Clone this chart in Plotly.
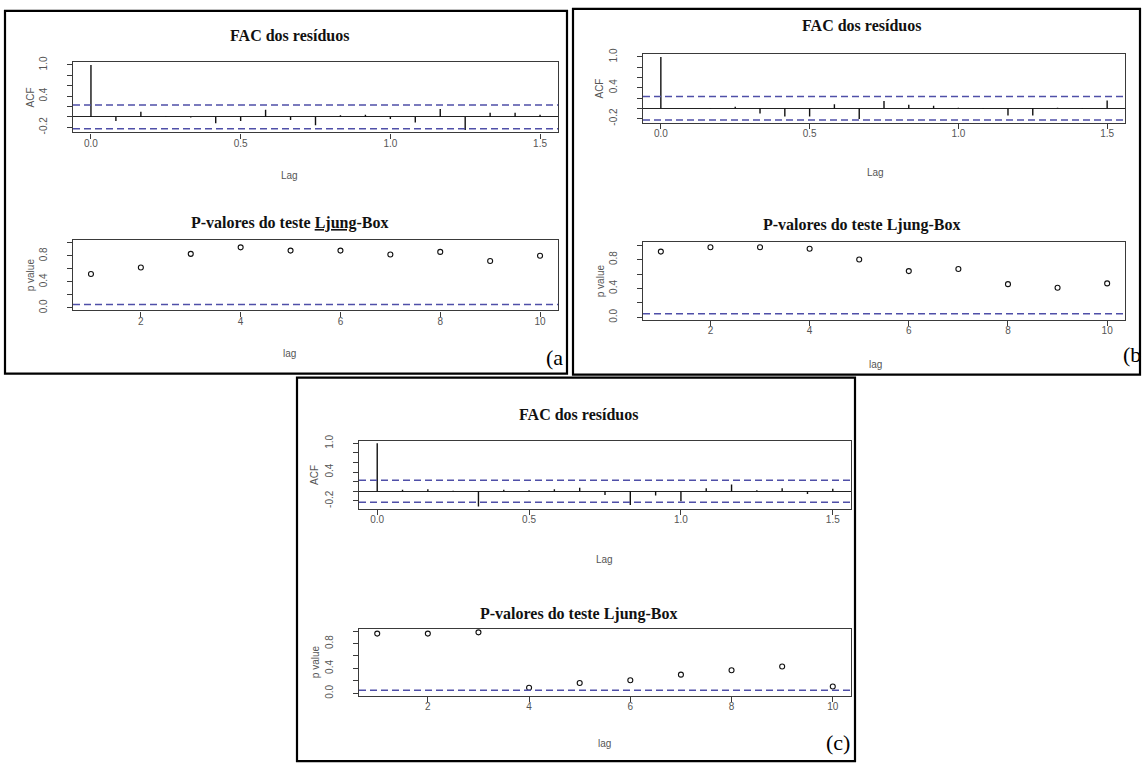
import plotly.graph_objects as go

W, H = 1143, 767

# ---------------- data ----------------
acf_lags = [0.0, 0.0833, 0.1667, 0.25, 0.3333, 0.4167, 0.5, 0.5833, 0.6667, 0.75,
            0.8333, 0.9167, 1.0, 1.0833, 1.1667, 1.25, 1.3333, 1.4167, 1.5]
acf_a = [1.0, -0.08, 0.10, 0.01, -0.01, -0.12, -0.08, 0.14, -0.06, -0.16,
         0.03, 0.04, -0.04, -0.11, 0.15, -0.25, 0.08, 0.08, 0.04]
acf_b = [1.0, 0.0, -0.01, 0.03, -0.10, -0.16, -0.16, 0.08, -0.21, 0.14,
         0.07, 0.05, 0.01, -0.01, -0.14, -0.14, 0.01, -0.01, 0.15]
acf_c = [1.0, 0.03, 0.04, 0.01, -0.32, 0.03, 0.02, 0.04, 0.07, -0.08,
         -0.29, -0.09, -0.21, 0.06, 0.14, 0.02, 0.06, -0.06, 0.05]
conf_limits = [0.23, 0.23, 0.23]

lb_lags = [1, 2, 3, 4, 5, 6, 7, 8, 9, 10]
pval_a = [0.52, 0.62, 0.83, 0.93, 0.88, 0.88, 0.82, 0.86, 0.72, 0.80]
pval_b = [0.91, 0.97, 0.97, 0.95, 0.80, 0.64, 0.67, 0.46, 0.41, 0.47]
pval_c = [0.96, 0.96, 0.98, 0.09, 0.165, 0.21, 0.30, 0.37, 0.43, 0.11]
pval_ref = 0.05

acf_tickvals = [-0.2, 0.0, 0.2, 0.4, 0.6, 0.8, 1.0]
acf_ticktext = ["-0.2", "", "", "0.4", "", "", "1.0"]
acf_xticks = [0.0, 0.5, 1.0, 1.5]
acf_xticktext = ["0.0", "0.5", "1.0", "1.5"]
p_tickvals = [0.0, 0.2, 0.4, 0.6, 0.8, 1.0]
p_ticktext = ["0.0", "", "0.4", "", "0.8", ""]
p_xticks = [2, 4, 6, 8, 10]

acf_title = "FAC dos resíduos"
p_title = "P-valores do teste Ljung-Box"
p_title_a = "P-valores do teste <u>Ljung</u>-Box"
panel_labels = ["(a", "(b", "(c)"]

# ---------------- layout geometry (pixels) ----------------
panels = [
    dict(frame=(5, 5, 567, 372), acf_box=(73, 57, 558, 128), p_box=(73, 237, 558, 308),
         title_x=289, acf_t=30, p_t=220, lab_x=289, lag1=172, lag2=352, ylab=30, label=(554, 356),
         acf=acf_a, p=pval_a, ptitle=p_title_a),
    dict(frame=(573, 3, 1140, 373), acf_box=(643, 49, 1125, 118), p_box=(643, 239, 1125, 318),
         title_x=861, acf_t=20, p_t=222, lab_x=875, lag1=168, lag2=363, ylab=600, label=(1132, 353),
         acf=acf_b, p=pval_b, ptitle=p_title),
    dict(frame=(297, 376, 855, 764), acf_box=(359, 440, 851, 509), p_box=(359, 630, 851, 698),
         title_x=578, acf_t=413, p_t=615, lab_x=604, lag1=560, lag2=746, ylab=315, label=(838, 745),
         acf=acf_c, p=pval_c, ptitle=p_title),
]


def fx(x):
    return x / W


def fy(y):
    return 1 - y / H


AX = dict(showline=True, mirror=True, linecolor="#3a3a3a", linewidth=1.4,
          ticks="outside", ticklen=5, tickcolor="#3a3a3a", tickwidth=1,
          showgrid=False, zeroline=False,
          tickfont=dict(family="Liberation Sans, Arial", size=10, color="#555555"))

fig = go.Figure()
layout = {}
shapes = []
annotations = []

TITLE_FONT = dict(family="Liberation Serif, Times New Roman", size=16, color="#111111")
LAB_FONT = dict(family="Liberation Sans, Arial", size=10, color="#555555")

for i, pnl in enumerate(panels):
    acf_vals = pnl["acf"]
    clim = conf_limits[i]
    ia = 2 * i + 1
    ip = 2 * i + 2
    xa_name = "x" if ia == 1 else f"x{ia}"
    ya_name = "y" if ia == 1 else f"y{ia}"
    xp_name = f"x{ip}"
    yp_name = f"y{ip}"

    # ACF spikes
    sx, sy = [], []
    for lag, v in zip(acf_lags, acf_vals):
        sx += [lag, lag, None]
        sy += [0, v, None]
    fig.add_trace(go.Scatter(x=sx, y=sy, mode="lines", line=dict(color="#111111", width=1.4),
                             xaxis=xa_name, yaxis=ya_name, showlegend=False, hoverinfo="skip"))
    # p-values
    fig.add_trace(go.Scatter(x=lb_lags, y=pnl["p"], mode="markers",
                             marker=dict(symbol="circle-open", size=5, color="#111111",
                                         line=dict(width=1.1)),
                             xaxis=xp_name, yaxis=yp_name, showlegend=False))

    # ranges (R-style 4% extension)
    lo = min(min(acf_vals), -clim)
    hi = max(max(acf_vals), clim)
    ext = (hi - lo) * 0.04
    xlo, xhi = min(acf_lags), max(acf_lags)
    xext = (xhi - xlo) * 0.04
    plo, phi = min(lb_lags), max(lb_lags)
    pext = (phi - plo) * 0.04

    x0, y0, x1, y1 = pnl["acf_box"]
    layout[f"xaxis{'' if ia == 1 else ia}"] = dict(
        AX, domain=[fx(x0), fx(x1)], anchor=ya_name, range=[xlo - xext, xhi + xext],
        tickvals=acf_xticks, ticktext=acf_xticktext, ticklabelstandoff=-4)
    layout[f"yaxis{'' if ia == 1 else ia}"] = dict(
        AX, domain=[fy(y1), fy(y0)], anchor=xa_name, range=[lo - ext, hi + ext],
        tickvals=acf_tickvals, ticktext=acf_ticktext, tickangle=-90,
        zeroline=True, zerolinecolor="#222222", zerolinewidth=1.3, ticklabelstandoff=16)

    px0, py0, px1, py1 = pnl["p_box"]
    layout[f"xaxis{ip}"] = dict(
        AX, domain=[fx(px0), fx(px1)], anchor=yp_name, range=[plo - pext, phi + pext],
        tickvals=p_xticks, ticklabelstandoff=-4)
    layout[f"yaxis{ip}"] = dict(
        AX, domain=[fy(py1), fy(py0)], anchor=xp_name, range=[-0.04, 1.04],
        tickvals=p_tickvals, ticktext=p_ticktext, tickangle=-90, ticklabelstandoff=16)

    dash_line = dict(color="#4f4fa8", width=1.5, dash="7px,4px")
    for yv in (clim, -clim):
        shapes.append(dict(type="line", xref=f"{xa_name} domain", yref=ya_name,
                           x0=0, x1=1, y0=yv, y1=yv, line=dash_line))
    shapes.append(dict(type="line", xref=f"{xp_name} domain", yref=yp_name,
                       x0=0, x1=1, y0=pval_ref, y1=pval_ref, line=dash_line))

    # panel frame
    f0, g0, f1, g1 = pnl["frame"]
    shapes.append(dict(type="rect", xref="paper", yref="paper",
                       x0=fx(f0), x1=fx(f1), y0=fy(g1), y1=fy(g0),
                       line=dict(color="#000000", width=2.2)))

    tx = pnl["title_x"]
    lx = pnl["lab_x"]
    annotations += [
        dict(text=f"<b>{acf_title}</b>", x=fx(tx), y=fy(pnl["acf_t"]), font=TITLE_FONT),
        dict(text=f"<b>{pnl['ptitle']}</b>", x=fx(tx), y=fy(pnl["p_t"]), font=TITLE_FONT),
        dict(text="Lag", x=fx(lx), y=fy(pnl["lag1"]), font=LAB_FONT),
        dict(text="lag", x=fx(lx), y=fy(pnl["lag2"]), font=LAB_FONT),
        dict(text="ACF", x=fx(pnl["ylab"]), y=fy((y0 + y1) / 2), font=LAB_FONT, textangle=-90),
        dict(text="p value", x=fx(pnl["ylab"]), y=fy((py0 + py1) / 2), font=LAB_FONT, textangle=-90),
        dict(text=panel_labels[i], x=fx(pnl["label"][0]), y=fy(pnl["label"][1]),
             font=dict(family="Liberation Serif, Times New Roman", size=22, color="#000000")),
    ]

for a in annotations:
    a.update(xref="paper", yref="paper", showarrow=False, xanchor="center", yanchor="middle")

fig.update_layout(
    width=W, height=H, margin=dict(l=0, r=0, t=0, b=0),
    paper_bgcolor="white", plot_bgcolor="white",
    shapes=shapes, annotations=annotations, showlegend=False,
    **layout,
)

fig.write_html("out.html")
